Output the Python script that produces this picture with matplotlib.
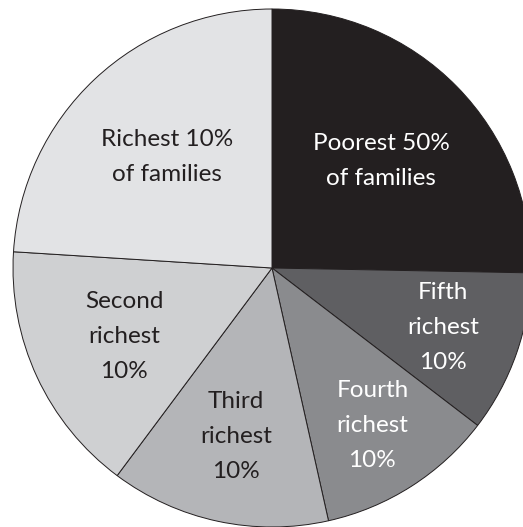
import numpy as np
import matplotlib
matplotlib.use("Agg")
import matplotlib.pyplot as plt

# Data (shares, in percent)
labels = ["Poorest 50%\nof families", "Fifth\nrichest\n10%", "Fourth\nrichest\n10%",
          "Third\nrichest\n10%", "Second\nrichest\n10%", "Richest 10%\nof families"]
shares = [25.3, 10.1, 11.1, 13.7, 15.8, 24.0]

colors = ["#231f20", "#5f5f62", "#8a8b8e", "#b4b5b8", "#cfd0d2", "#e2e3e5"]
text_colors = ["white", "white", "white", "#231f20", "#231f20", "#231f20"]
label_r = [0.59, 0.70, 0.72, 0.665, 0.63, 0.59]

W, H = 523, 527
fig = plt.figure(figsize=(W / 100, H / 100), dpi=100)
ax = fig.add_axes([0, 0, 1, 1])

cx, cy, R = 272, H - 268, 259
wedges, _ = ax.pie(shares, colors=colors, startangle=90, counterclock=False,
                   center=(cx, cy), radius=R, normalize=True,
                   wedgeprops=dict(edgecolor="#231f20", linewidth=0.7))

for w, lab, tc, lr in zip(wedges, labels, text_colors, label_r):
    mid = np.deg2rad((w.theta1 + w.theta2) / 2)
    x = cx + lr * R * np.cos(mid)
    y = cy + lr * R * np.sin(mid)
    ax.text(x, y, lab, ha="center", va="center", color=tc, fontsize=17.5,
            family="Lato", fontweight="normal", linespacing=1.83)

ax.set_xlim(0, W)
ax.set_ylim(0, H)
ax.set_aspect("equal", adjustable="box")
ax.axis("off")
fig.savefig("out.png", dpi=100, facecolor="white")
